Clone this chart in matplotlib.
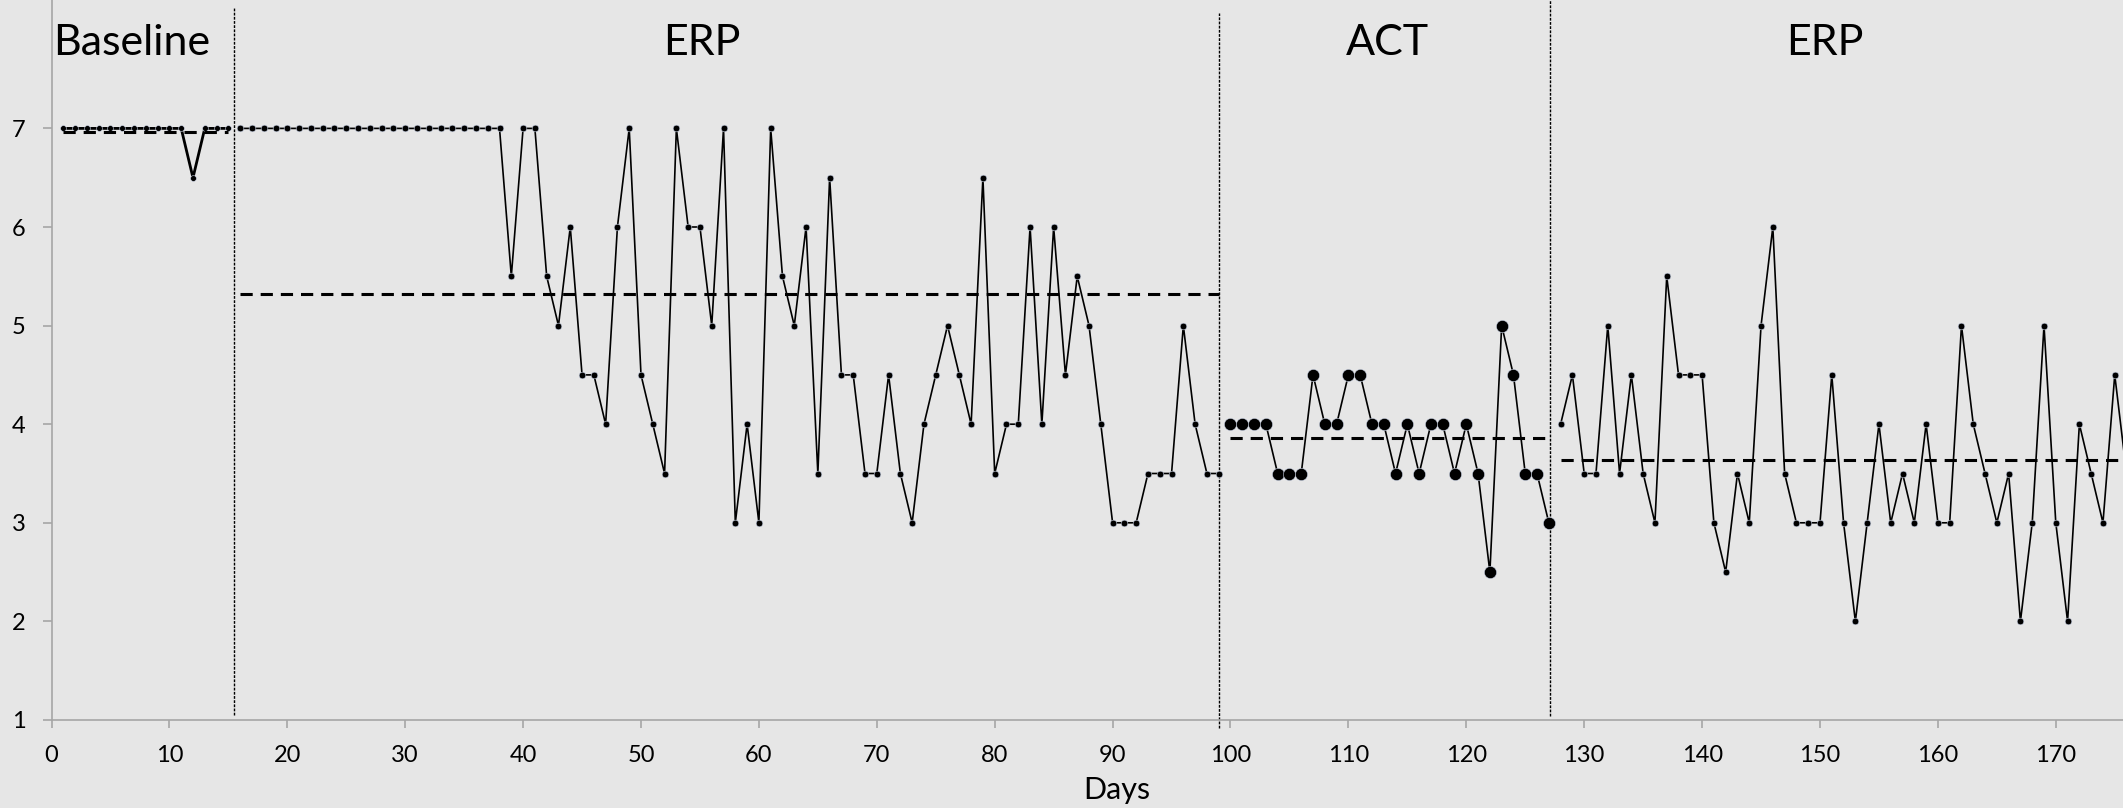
import numpy as np
import matplotlib.pyplot as plt

plt.rcParams['font.family'] = ['Lato', 'DejaVu Sans']

# Daily ratings per phase
baseline_days = list(range(1, 16))
baseline_vals = [7, 7, 7, 7, 7, 7, 7, 7, 7, 7, 7, 6.5, 7, 7, 7]

erp1_days = list(range(16, 100))
erp1_vals = [7] * 23 + [
    5.5, 7, 7, 5.5, 5, 6, 4.5, 4.5, 4, 6,
    7, 4.5, 4, 3.5, 7, 6, 6, 5, 7, 3,
    4, 3, 7, 5.5, 5, 6, 3.5, 6.5, 4.5, 4.5,
    3.5, 3.5, 4.5, 3.5, 3, 4, 4.5, 5, 4.5, 4,
    6.5, 3.5, 4, 4, 6, 4, 6, 4.5, 5.5, 5,
    4, 3, 3, 3, 3.5, 3.5, 3.5, 5, 4, 3.5, 3.5]

act_days = list(range(100, 128))
act_vals = [4, 4, 4, 4, 3.5, 3.5, 3.5, 4.5, 4, 4,
            4.5, 4.5, 4, 4, 3.5, 4, 3.5, 4, 4, 3.5,
            4, 3.5, 2.5, 5, 4.5, 3.5, 3.5, 3]

erp2_days = list(range(128, 177))
erp2_vals = [4, 4.5, 3.5, 3.5, 5, 3.5, 4.5, 3.5, 3, 5.5,
             4.5, 4.5, 4.5, 3, 2.5, 3.5, 3, 5, 6, 3.5,
             3, 3, 3, 4.5, 3, 2, 3, 4, 3, 3.5,
             3, 4, 3, 3, 5, 4, 3.5, 3, 3.5, 2,
             3, 5, 3, 2, 4, 3.5, 3, 4.5, 3.5]

phase_names = ['Baseline', 'ERP', 'ACT', 'ERP']
phase_label_x = [6.8, 55.2, 113.3, 150.4]
phase_breaks = [15.5, 99.05, 127.1]

BG = '#e6e6e6'
GRAY = '#a6a6a6'

fig = plt.figure(figsize=(21.23, 8.08), dpi=100, facecolor=BG)
ax = fig.add_axes([51.5 / 2123, 88 / 808, 1 - 51.5 / 2123, 720 / 808])
ax.set_facecolor(BG)

marker_edge = dict(markeredgecolor='#cfd8ea', markeredgewidth=0.4)

# data series
ax.plot(baseline_days, baseline_vals, color='black', lw=2.0, marker='o',
        markersize=4.2, markerfacecolor='black', zorder=3, **marker_edge)
ax.plot(erp1_days, erp1_vals, color='black', lw=1.2, marker='o',
        markersize=4.8, markerfacecolor='black', zorder=3, **marker_edge)
ax.plot(act_days, act_vals, color='black', lw=1.2, marker='o',
        markersize=8.8, markerfacecolor='black', zorder=3, **marker_edge)
ax.plot(erp2_days, erp2_vals, color='black', lw=1.2, marker='o',
        markersize=4.8, markerfacecolor='black', zorder=3, **marker_edge)

# phase means
for days, vals in [(baseline_days, baseline_vals), (erp1_days, erp1_vals),
                   (act_days, act_vals), (erp2_days, erp2_vals)]:
    ax.hlines(np.mean(vals), days[0], days[-1], colors='black', lw=2.2,
              linestyles=(0, (4, 2.6)), zorder=4)

# phase change lines
ax.axvline(phase_breaks[0], ymin=0.007, ymax=0.99, color='black', lw=1.0,
           linestyle=(0, (2, 1)), clip_on=False)
ax.axvline(phase_breaks[1], ymin=-0.011, ymax=0.982, color='black', lw=1.0,
           linestyle=(0, (2, 1)), clip_on=False)
ax.axvline(phase_breaks[2], ymin=0.006, ymax=1.0, color='black', lw=1.0,
           linestyle=(0, (2, 1)), clip_on=False)

for name, xpos in zip(phase_names, phase_label_x):
    ax.text(xpos, 7.74, name, ha='center', va='baseline', fontsize=31)

ax.set_xlim(0, 175.7)
ax.set_ylim(1, 1 + 720 / 98.6)
ax.set_xticks(range(0, 171, 10))
ax.set_yticks(range(1, 8))

for side in ['top', 'right']:
    ax.spines[side].set_visible(False)
for side in ['left', 'bottom']:
    ax.spines[side].set_color(GRAY)
    ax.spines[side].set_linewidth(1.2)

ax.tick_params(axis='y', colors=GRAY, labelcolor='black', length=6.5,
               width=1.2, pad=12, labelsize=17)
ax.tick_params(axis='x', colors=GRAY, labelcolor='black', length=6,
               width=1.2, pad=12, labelsize=17)

fig.text(1116.7 / 2123, 9 / 808, 'Days', ha='center', va='baseline', fontsize=22)

fig.savefig('out.png', dpi=100, facecolor=BG)
